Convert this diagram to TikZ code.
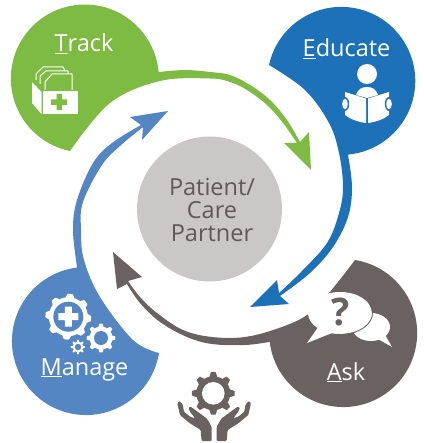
\documentclass[tikz,border=0pt]{standalone}
\usepackage{fontspec}
\setmainfont{Open Sans}
\definecolor{trackgreen}{HTML}{7DBB42}
\definecolor{edublue}{HTML}{1C71B8}
\definecolor{mgblue}{HTML}{5486C4}
\definecolor{askgray}{HTML}{6A6260}
\definecolor{coregray}{HTML}{CBC7C6}
\definecolor{coretext}{HTML}{5F5857}
\newcommand{\gearshape}[7]{%
  \foreach \tn in {1,...,#5}{
    \pgfmathsetmacro{\ta}{#6+360/#5*\tn}
    \path[fill,rounded corners=.4pt] ($(#1,#2)+(\ta-110/#5:#4-.3)$) -- ($(#1,#2)+(\ta-50/#5:#3)$) -- ($(#1,#2)+(\ta+50/#5:#3)$) -- ($(#1,#2)+(\ta+110/#5:#4-.3)$) -- cycle;
  }
  \path[fill] (#1,#2) circle[radius=#4];
}
\usetikzlibrary{calc}
\tikzset{
  label/.style={text=white,font=\fontsize{23.5}{27}\selectfont,anchor=base,inner sep=0pt},
  sm/.style={smooth,tension=.6}
}
\begin{document}
\begin{tikzpicture}[yscale=-1,x=1pt,y=1pt]
\useasboundingbox (0,0) rectangle (423,443);
% Track
\fill[trackgreen] (70,151) arc[start angle=101.6,end angle=355.4,radius=74]
  -- plot[sm] coordinates {(159,72) (185,70) (210,72) (230,75) (250,85) (270,100) (287,120) (300,142)}
  -- (309,132) -- (311,170) -- (284,143) -- (297,143)
  -- plot[sm] coordinates {(297,143) (283,123) (267,105) (247,90) (230,82) (210,78.5) (160,81) (110,103) (70,151)} -- cycle;
% Educate
\fill[edublue] (269,65) arc[start angle=192.4,end angle=445.4,radius=74]
  -- plot[sm] coordinates {(348,155) (352,187) (348,217) (333,247) (310,273) (280,296)}
  -- (289,304) -- (250,307) -- (277,280) -- (279,293)
  -- plot[sm] coordinates {(279,293) (301,272) (327,243) (339,213) (343,187) (339,153) (329,123) (305,90) (269,65)} -- cycle;
% Ask
\fill[askgray] (355,260) arc[start angle=279.2,end angle=533.8,radius=74]
  -- plot[sm] coordinates {(269,342) (245,345) (212,344) (187,337) (160,322) (140,303) (127,284)}
  -- (117,289) -- (113,252) -- (142,277) -- (128,281)
  -- plot[sm] coordinates {(128,281) (140,297) (157,313) (183,330) (212,337) (245,337) (279,328) (307,315) (329,293) (355,260)} -- cycle;
% Manage
\fill[mgblue] (159,353) arc[start angle=9.3,end angle=263,radius=74]
  -- plot[sm] coordinates {(77,267) (73,230) (77,200) (93,163) (112,143) (141,125)}
  -- (130,117) -- (168,111) -- (142,140) -- (143,127)
  -- plot[sm] coordinates {(143,127) (120,146) (102,165) (83,202) (81,230) (84,260) (100,297) (133,340) (159,353)} -- cycle;
% Centre
\node[circle,fill=coregray,minimum size=145pt,inner sep=0pt] (core) at (209.5,209) {};
\node[text=coretext,font=\fontsize{23.5}{23}\selectfont,align=center,inner sep=0pt] (coretxt) at (212,210) {Patient/\\Care\\Partner};
% Labels
\node[label] (track) at (84,52) {\underline{T}rack};
\node[label] (educate) at (346.5,57) {\underline{E}ducate};
\node[label] (manage) at (84.5,375) {\underline{M}anage};
\node[label] (ask) at (346,380) {\underline{A}sk};
% Folder icon
\begin{scope}[white,line width=1pt,line join=round]
\draw (36,80) -- (36,74) -- (43,67) -- (63,67) -- (65,71);
\draw (40,84) -- (40,76) -- (46,71) -- (68,71) -- (68,74);
\draw (45,90) -- (45,82) -- (52,74) -- (72,74) -- (72,90);
\fill (43,91) -- (77.5,91) -- (77.5,114) -- (43,114) -- cycle;
\fill (32,82) -- (41.5,92) -- (41.5,114) -- (32,103) -- cycle;
\end{scope}
\fill[trackgreen] (56.5,94) rectangle (62,110) (51,99.5) rectangle (67,105);
% Reader icon
\fill[white] (367,74) circle[radius=10];
\fill[white] (356,95) .. controls (358,89) and (362,87) .. (367,87) .. controls (372,87) and (376,89) .. (378,95) -- (367,98) -- cycle;
\fill[white] (345,92) -- (366,98.5) -- (366,123) .. controls (358,122) and (350,119) .. (345,115) -- cycle;
\fill[white] (368,98.5) -- (389,92) -- (389,115) .. controls (384,119) and (376,122) .. (368,123) -- cycle;
\fill[edublue] (345,104) ellipse[x radius=4.2,y radius=7];
\fill[edublue] (389,104) ellipse[x radius=4.2,y radius=7];
\fill[white] (345,104) ellipse[x radius=2.8,y radius=5.3];
\fill[white] (389,104) ellipse[x radius=2.8,y radius=5.3];
% Chat icon
\fill[white] (371,327) ellipse[x radius=19,y radius=14];
\fill[white] (378,339) -- (392,347) -- (384,333) -- cycle;
\fill[white] (340,313) ellipse[x radius=32,y radius=21];
\fill[white] (319,326) -- (307,343) -- (332,333) -- cycle;
\draw[askgray,line width=.9pt] (340,313) ++(-25:32.5 and 21.5) arc[start angle=-25,end angle=95,x radius=32.5,y radius=21.5];
\node[text=askgray,font=\bfseries\fontsize{38}{40}\selectfont,inner sep=0pt] (qm) at (341,312) {?};
% Manage gears
\begin{scope}[fill=white]
\gearshape{68.3}{316.7}{23}{19.5}{8}{5}{15}
\gearshape{101}{338}{14.5}{11.5}{8}{0}{7}
\gearshape{78}{347}{7.3}{5.5}{8}{0}{3.5}
\end{scope}
\fill[mgblue] (68.3,316.7) circle[radius=15] (101,338) circle[radius=7] (78,347) circle[radius=3.2];
\fill[white] (64.8,306.7) rectangle (71.8,326.7) (58.3,313.2) rectangle (78.3,320.2);
% Bottom gear and hands
\begin{scope}[fill=askgray]
\gearshape{213.3}{393.3}{21.5}{17}{8}{0}{11}
\end{scope}
\fill[white] (213.3,393.3) circle[radius=11.3];
\begin{scope}[shift={(170,365)},scale=1/3]
\fill[askgray,rounded corners=1pt] (95,228) -- (92,195) -- (60,175) -- (30,150) -- (22,115) -- (28,108) -- (38,118) -- (42,140) -- (60,155) -- (75,160) -- (60,140) -- (55,128) -- (62,125) -- (110,160) -- (125,185) -- (125,228) -- cycle;
\end{scope}
\begin{scope}[shift={(258.3,365)},xscale=-1/3,yscale=1/3]
\fill[askgray,rounded corners=1pt] (95,228) -- (92,195) -- (60,175) -- (30,150) -- (22,115) -- (28,108) -- (38,118) -- (42,140) -- (60,155) -- (75,160) -- (60,140) -- (55,128) -- (62,125) -- (110,160) -- (125,185) -- (125,228) -- cycle;
\end{scope}
\end{tikzpicture}
\end{document}
